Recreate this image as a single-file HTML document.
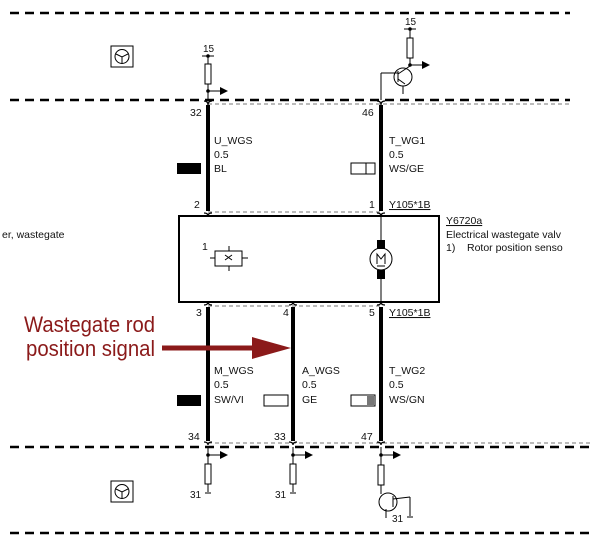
<!DOCTYPE html>
<html><head><meta charset="utf-8"><style>
html,body{margin:0;padding:0;background:#fff;width:600px;height:554px;overflow:hidden}
svg{display:block}
text{font-family:"Liberation Sans",Arial,sans-serif;fill:#111}
</style></head><body>
<svg width="600" height="554" viewBox="0 0 600 554" xmlns="http://www.w3.org/2000/svg">
<g stroke="#000" stroke-width="2.5" stroke-dasharray="9,6" fill="none">
<line x1="10" y1="13" x2="570" y2="13"/>
<line x1="10" y1="100" x2="570" y2="100"/>
<line x1="10" y1="447" x2="590" y2="447"/>
<line x1="10" y1="533" x2="590" y2="533"/>
</g>
<g stroke="#777" stroke-width="1" stroke-dasharray="4,3" fill="none">
<line x1="208" y1="104" x2="570" y2="104"/>
<line x1="208" y1="212" x2="381" y2="212"/>
<line x1="208" y1="306" x2="381" y2="306"/>
<line x1="208" y1="443" x2="590" y2="443"/>
</g>
<rect x="179" y="216" width="260" height="86" fill="none" stroke="#000" stroke-width="2"/>
<line x1="381" y1="216" x2="381" y2="302" stroke="#000" stroke-width="1"/>
<g stroke="#000" stroke-width="4">
<line x1="208" y1="105" x2="208" y2="211"/>
<line x1="381" y1="105" x2="381" y2="211"/>
<line x1="208" y1="307" x2="208" y2="441"/>
<line x1="293" y1="307" x2="293" y2="441"/>
<line x1="381" y1="307" x2="381" y2="441"/>
</g>
<g stroke="#000" stroke-width="1.2" fill="none">
<path d="M204,101 q4,0 4,4 q0,-4 4,-4"/><path d="M377,101 q4,0 4,4 q0,-4 4,-4"/>
<path d="M204,213 q4,0 4,3 q0,-3 4,-3"/><path d="M377,213 q4,0 4,3 q0,-3 4,-3"/>
<path d="M204,305 q4,0 4,-3 q0,3 4,3"/><path d="M289,305 q4,0 4,-3 q0,3 4,3"/><path d="M377,305 q4,0 4,-3 q0,3 4,3"/>
<path d="M204,442 q4,0 4,3 q0,-3 4,-3"/><path d="M289,442 q4,0 4,3 q0,-3 4,-3"/><path d="M377,442 q4,0 4,3 q0,-3 4,-3"/>
</g>
<g stroke="#000" stroke-width="1" fill="none">
<line x1="202" y1="56" x2="214" y2="56"/><line x1="208" y1="56" x2="208" y2="100"/>
<rect x="205" y="64" width="6" height="20" fill="#fff"/>
<line x1="208" y1="91" x2="222" y2="91"/>
<line x1="404" y1="29" x2="416" y2="29"/><line x1="410" y1="29" x2="410" y2="66"/>
<rect x="407" y="38" width="6" height="20" fill="#fff"/>
<line x1="410" y1="65" x2="423" y2="65"/>
<circle cx="403" cy="77" r="9"/>
<line x1="381" y1="100" x2="381" y2="73"/><line x1="381" y1="73" x2="398" y2="73"/>
<line x1="398" y1="71" x2="398" y2="82"/><line x1="398" y1="74" x2="410" y2="66"/><line x1="398" y1="79" x2="405" y2="84"/>
<line x1="403" y1="86" x2="403" y2="94"/>
</g>
<g fill="#000">
<circle cx="208" cy="56" r="1.8"/><circle cx="208" cy="91" r="1.8"/>
<circle cx="410" cy="29" r="1.8"/><circle cx="410" cy="65" r="1.8"/>
<path d="M220,87 l8,4 l-8,4z"/><path d="M422,61 l8,4 l-8,4z"/>
</g>
<text x="203" y="52" font-size="10">15</text>
<text x="405" y="25" font-size="10">15</text>
<g stroke="#000" stroke-width="1" fill="none">
<line x1="208" y1="447" x2="208" y2="492"/><line x1="208" y1="455" x2="222" y2="455"/>
<rect x="205" y="464" width="6" height="20" fill="#fff"/>
<line x1="293" y1="447" x2="293" y2="492"/><line x1="293" y1="455" x2="307" y2="455"/>
<rect x="290" y="464" width="6" height="20" fill="#fff"/>
<line x1="381" y1="447" x2="381" y2="494"/><line x1="381" y1="455" x2="395" y2="455"/>
<rect x="378" y="465" width="6" height="20" fill="#fff"/>
<circle cx="388" cy="502" r="9"/>
<line x1="393" y1="496" x2="393" y2="507"/><line x1="393" y1="499" x2="410" y2="497"/><line x1="410" y1="497" x2="410" y2="516"/>
<line x1="386" y1="509" x2="386" y2="518"/>
<line x1="205" y1="493" x2="211" y2="493"/><line x1="290" y1="493" x2="296" y2="493"/><line x1="407" y1="517" x2="413" y2="517"/>
</g>
<g fill="#000">
<circle cx="208" cy="455" r="1.8"/><circle cx="293" cy="455" r="1.8"/><circle cx="381" cy="455" r="1.8"/>
<path d="M220,451 l8,4 l-8,4z"/><path d="M305,451 l8,4 l-8,4z"/><path d="M393,451 l8,4 l-8,4z"/>
</g>
<text x="190" y="498" font-size="10">31</text>
<text x="275" y="498" font-size="10">31</text>
<text x="392" y="522" font-size="10">31</text>
<g stroke="#000" stroke-width="1" fill="none">
<rect x="111" y="46" width="22" height="21"/><circle cx="122" cy="56.5" r="7"/>
<path d="M116,54 l6,3 l6,-3 M122,57 v6"/>
<rect x="111" y="481" width="22" height="21"/><circle cx="122" cy="491.5" r="7"/>
<path d="M116,489 l6,3 l6,-3 M122,492 v6"/>
</g>
<g font-size="10.5">
<text x="190" y="116">32</text><text x="362" y="116">46</text>
<text x="214" y="144">U_WGS</text><text x="214" y="158">0.5</text><text x="214" y="172">BL</text>
<text x="389" y="144">T_WG1</text><text x="389" y="158">0.5</text><text x="389" y="172">WS/GE</text>
<text x="194" y="208">2</text><text x="369" y="208">1</text>
<text x="389" y="208" text-decoration="underline">Y105*1B</text>
<text x="196" y="316">3</text><text x="283" y="316">4</text><text x="369" y="316">5</text>
<text x="389" y="316" text-decoration="underline">Y105*1B</text>
<text x="214" y="374">M_WGS</text><text x="214" y="388">0.5</text><text x="214" y="403">SW/VI</text>
<text x="302" y="374">A_WGS</text><text x="302" y="388">0.5</text><text x="302" y="403">GE</text>
<text x="389" y="374">T_WG2</text><text x="389" y="388">0.5</text><text x="389" y="403">WS/GN</text>
<text x="188" y="440">34</text><text x="274" y="440">33</text><text x="361" y="440">47</text>
<text x="446" y="224" text-decoration="underline">Y6720a</text>
<text x="446" y="238">Electrical wastegate valv</text>
<text x="446" y="251">1)</text><text x="467" y="251">Rotor position senso</text>
<text x="2" y="238">er, wastegate</text>
<text x="202" y="250">1</text>
</g>
<rect x="177" y="163" width="24" height="11" fill="#000"/>
<rect x="351" y="163" width="24" height="11" fill="#fff" stroke="#000"/><line x1="366" y1="163" x2="366" y2="174" stroke="#000"/>
<rect x="177" y="395" width="24" height="11" fill="#000"/>
<rect x="264" y="395" width="24" height="11" fill="#fff" stroke="#000"/>
<rect x="351" y="395" width="24" height="11" fill="#fff" stroke="#000"/><rect x="367" y="396" width="7" height="9" fill="#777"/>
<g stroke="#000" stroke-width="1" fill="none">
<rect x="215" y="251" width="27" height="15"/>
<line x1="210" y1="258" x2="215" y2="258"/><line x1="242" y1="258" x2="248" y2="258"/>
<line x1="229" y1="246" x2="229" y2="251"/><line x1="229" y1="266" x2="229" y2="271"/>
<path d="M225,255 l7,5 M232,255 l-7,5"/>
<circle cx="381" cy="259" r="11" fill="#fff"/>
<path d="M377,264 v-10 l4,5 l4,-5 v10"/><line x1="377" y1="266" x2="385" y2="266"/>
</g>
<rect x="377" y="240" width="8" height="9" fill="#000"/>
<rect x="377" y="270" width="8" height="9" fill="#000"/>
<g font-size="22">
<text x="24" y="332" textLength="131" lengthAdjust="spacingAndGlyphs" style="fill:#8b1a1a">Wastegate rod</text>
<text x="26" y="356" textLength="129" lengthAdjust="spacingAndGlyphs" style="fill:#8b1a1a">position signal</text>
</g>
<line x1="162" y1="348" x2="254" y2="348" stroke="#8b1a1a" stroke-width="5"/>
<path d="M252,337 L291,348 L252,359 Z" fill="#8b1a1a"/>
</svg>
</body></html>
